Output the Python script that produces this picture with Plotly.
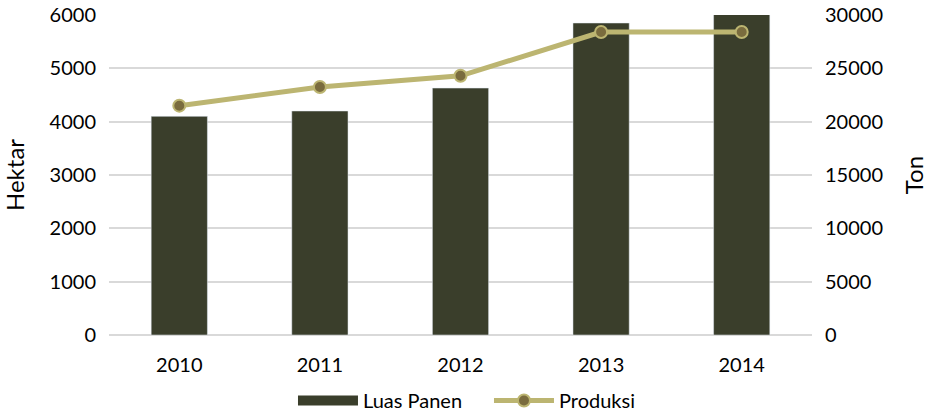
import plotly.graph_objects as go

tahun = ["2010", "2011", "2012", "2013", "2014"]
luas_panen = [4100, 4200, 4630, 5850, 6050]        # hektar
produksi = [21500, 23250, 24300, 28400, 28400]     # ton

COLOR_BAR = "#3a3e2b"
COLOR_LINE = "#bcb571"
COLOR_MARKER = "#7a6c3e"
FONT = "Lato"

fig = go.Figure()
fig.add_trace(go.Bar(
    x=tahun, y=luas_panen, name="Luas Panen",
    marker=dict(color=COLOR_BAR), width=0.4, yaxis="y", showlegend=False,
))
# legend-only entry so the bar key is drawn as a wide block, like the original
fig.add_trace(go.Scatter(
    x=[None], y=[None], name="Luas Panen", mode="lines",
    line=dict(color=COLOR_BAR, width=14),
))
fig.add_trace(go.Scatter(
    x=tahun, y=produksi, name="Produksi", mode="lines+markers",
    line=dict(color=COLOR_LINE, width=5),
    marker=dict(color=COLOR_MARKER, size=12, line=dict(color=COLOR_LINE, width=2)),
    yaxis="y2",
))

fig.update_layout(
    width=931, height=420,
    margin=dict(l=109, r=119, t=15, b=85),
    plot_bgcolor="white", paper_bgcolor="white",
    font=dict(family=FONT, size=20, color="#000000"),
    showlegend=True,
    legend=dict(orientation="h", x=0.3147, xanchor="left", xref="container",
                y=0.0, yanchor="bottom", yref="container",
                font=dict(size=20), itemwidth=60, tracegroupgap=0,
                entrywidth=121, entrywidthmode="pixels"),
    xaxis=dict(showline=False, ticks="outside", ticklen=12, tickcolor="white",
               automargin=False),
    yaxis=dict(range=[0, 6000], dtick=1000, gridcolor="#d9d9d9", gridwidth=1.5,
               zeroline=True, zerolinecolor="#d9d9d9", zerolinewidth=1.5,
               tickformat="d", title=dict(text="Hektar", standoff=20),
               ticks="outside", ticklen=8, tickcolor="white", showline=False,
               automargin=False),
    yaxis2=dict(range=[0, 30000], dtick=5000, overlaying="y", side="right",
                showgrid=False, zeroline=False, showline=False, tickformat="d",
                ticks="outside", ticklen=8, tickcolor="white",
                title=dict(text="Ton", standoff=24), automargin=False),
)

# drop the default 8px body margin so the figure sits flush in the window
fig.write_html("out.html", config={"displayModeBar": False},
               post_script="document.body.style.margin='0';")
